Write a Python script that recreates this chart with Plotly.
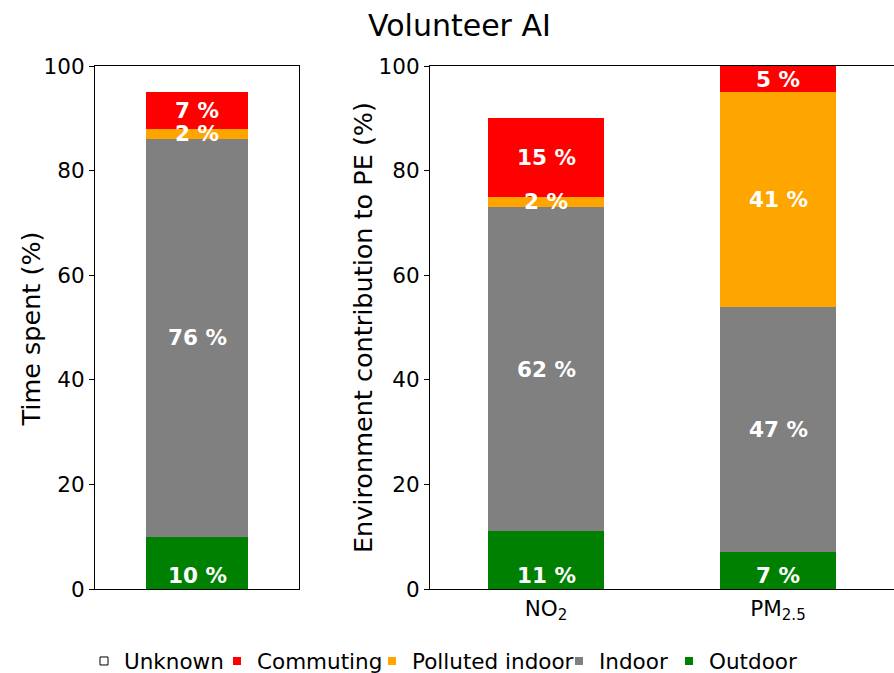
import plotly.graph_objects as go

# ---- data ----
environments = ["Unknown", "Commuting", "Polluted indoor", "Indoor", "Outdoor"]
colors = {"Unknown": "white", "Commuting": "red", "Polluted indoor": "orange",
          "Indoor": "gray", "Outdoor": "green"}

time_category = ["Time spent"]
time_outdoor = [10]
time_indoor = [76]
time_polluted = [2]
time_commuting = [7]
time_unknown = [5]

pollutants = ["NO<sub>2</sub>", "PM<sub>2.5</sub>"]
pe_outdoor = [11, 7]
pe_indoor = [62, 47]
pe_polluted = [2, 41]
pe_commuting = [15, 5]
pe_unknown = [10, 0]

FONT = "DejaVu Sans"
W, H = 894, 673
ML, MR, MT, MB = 0, 0, 66, 84
PH = H - MT - MB
FS = 21.5

fig = go.Figure()

left_series = [("Outdoor", time_outdoor), ("Indoor", time_indoor),
               ("Polluted indoor", time_polluted), ("Commuting", time_commuting),
               ("Unknown", time_unknown)]
right_series = [("Outdoor", pe_outdoor), ("Indoor", pe_indoor),
                ("Polluted indoor", pe_polluted), ("Commuting", pe_commuting),
                ("Unknown", pe_unknown)]

labels = []  # (xref, yref, x, y, text, anchor)


def add_bars(series, xcats, xa, ya):
    base = [0] * len(xcats)
    for name, vals in series:
        fig.add_trace(go.Bar(
            x=xcats, y=vals, width=0.5, name=name, showlegend=False,
            marker=dict(color=colors[name], line=dict(width=0)),
            hoverinfo="skip", xaxis=xa, yaxis=ya, textposition="none",
        ))
        if name != "Unknown":
            for j, v in enumerate(vals):
                if v == 0:
                    continue
                if name == "Outdoor":
                    labels.append((xa, ya, j, base[j], f"{v} %", "bottom"))
                else:
                    labels.append((xa, ya, j, base[j] + v / 2, f"{v} %", "middle"))
        base = [b + v for b, v in zip(base, vals)]


add_bars(left_series, time_category, "x", "y")
add_bars(right_series, pollutants, "x2", "y2")

# legend entries: one small legend per entry, placed like the reference
legend_text_left_px = [124, 257, 412, 599, 709]
legend_layouts = {}
for i, name in enumerate(environments):
    if name == "Unknown":
        mk = dict(symbol="square", size=8, color="white", line=dict(color="black", width=1))
    else:
        mk = dict(symbol="square", size=8, color=colors[name], line=dict(width=0))
    lid = "legend" if i == 0 else f"legend{i + 1}"
    fig.add_trace(go.Scatter(x=[None], y=[None], mode="markers", name=name,
                             marker=mk, showlegend=True, legend=lid,
                             xaxis="x", yaxis="y"))
    legend_layouts[lid] = dict(
        orientation="h", x=(legend_text_left_px[i] - 40) / W, xanchor="left",
        y=-(661 - (H - MB)) / PH, yanchor="middle",
        font=dict(family=FONT, size=FS, color="black"),
        itemwidth=30, bgcolor="rgba(0,0,0,0)", borderwidth=0,
    )

axis_common = dict(showline=True, linecolor="black", linewidth=1.2,
                   showgrid=False, zeroline=False)
yticks = dict(tickmode="array", tickvals=[0, 20, 40, 60, 80, 100],
              ticks="outside", ticklen=5, tickwidth=1.2, tickcolor="black",
              tickfont=dict(family=FONT, size=FS, color="black"), range=[0, 100])

fig.update_layout(
    width=W, height=H,
    margin=dict(l=ML, r=MR, t=MT, b=MB, autoexpand=False),
    paper_bgcolor="white", plot_bgcolor="white",
    barmode="stack",
    font=dict(family=FONT, color="black"),
    xaxis=dict(domain=[95 / W, 299 / W], range=[-0.5, 0.5], mirror=True,
               showticklabels=False, ticks="", anchor="y", **axis_common),
    yaxis=dict(domain=[0, 1], anchor="x", mirror=True, **yticks, **axis_common),
    xaxis2=dict(domain=[430 / W, 1.0], range=[-0.5, 1.5], mirror=True,
                ticks="", tickfont=dict(family=FONT, size=FS, color="black"),
                anchor="y2", **axis_common),
    yaxis2=dict(domain=[0, 1], anchor="x2", mirror=False, **yticks, **axis_common),
    showlegend=True,
    **legend_layouts,
)

for xa, ya, xi, yv, txt, anc in labels:
    fig.add_annotation(text=txt, x=xi, y=yv, xref=xa, yref=ya, showarrow=False,
                       xanchor="center", yanchor=anc, borderpad=0,
                       font=dict(family=FONT, size=FS, color="white", weight="bold"))

fig.add_annotation(text="Volunteer AI", x=459.5 / W, y=1 + (MT - 25) / PH,
                   xref="paper", yref="paper", showarrow=False,
                   xanchor="center", yanchor="middle",
                   font=dict(family=FONT, size=30, color="black"))
fig.add_annotation(text="Time spent (%)", x=30 / W, y=(H - MB - 329.5) / PH,
                   xref="paper", yref="paper", showarrow=False, textangle=-90,
                   xanchor="center", yanchor="middle",
                   font=dict(family=FONT, size=25.5, color="black"))
fig.add_annotation(text="Environment contribution to PE (%)", x=363 / W,
                   y=(H - MB - 328) / PH,
                   xref="paper", yref="paper", showarrow=False, textangle=-90,
                   xanchor="center", yanchor="middle",
                   font=dict(family=FONT, size=25.5, color="black"))

fig.write_html("out.html", config={"displayModeBar": False},
               post_script="document.body.style.margin='0';document.body.style.overflow='hidden';")
